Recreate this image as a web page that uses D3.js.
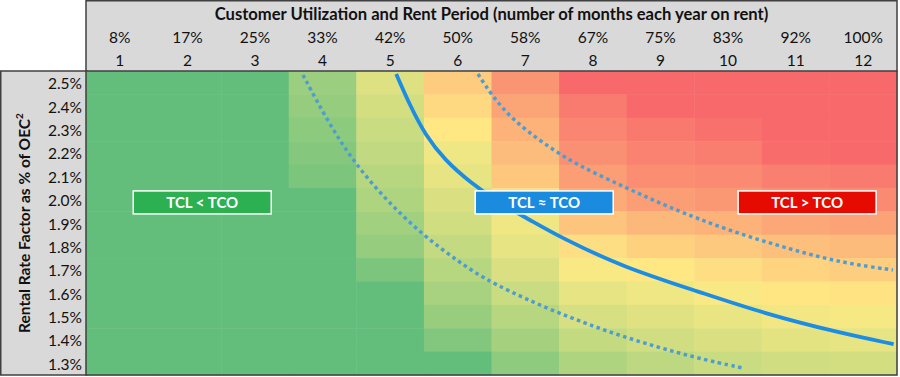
<!DOCTYPE html>
<html>
<head>
<meta charset="utf-8">
<script src="https://cdn.jsdelivr.net/npm/d3@7"></script>
<style>
  body { margin: 0; background: #fff; }
  svg { display: block; font-family: Lato, "Open Sans", sans-serif; }
</style>
</head>
<body>
<div id="chart"></div>
<script>
// chart values
const months = [1, 2, 3, 4, 5, 6, 7, 8, 9, 10, 11, 12];
const utilization = ["8%", "17%", "25%", "33%", "42%", "50%", "58%", "67%", "75%", "83%", "92%", "100%"];
const rates = [2.5, 2.4, 2.3, 2.2, 2.1, 2.0, 1.9, 1.8, 1.7, 1.6, 1.5, 1.4, 1.3];

// colour score per cell, one array per month (rows from 2.5% down to 1.3%), 50 = yellow
const score = [
  [0, 0, 0, 0, 0, 0, 0, 0, 0, 0, 0, 0, 0],
  [0, 0, 0, 0, 0, 0, 0, 0, 0, 0, 0, 0, 0],
  [0, 0, 0, 0, 0, 0, 0, 0, 0, 0, 0, 0, 0],
  [18, 16, 13, 11, 8, 0, 0, 0, 0, 0, 0, 0, 0],
  [39, 36, 33, 30, 27, 24, 20, 16, 8, 0, 0, 0, 0],
  [62, 57, 51, 45, 42, 38, 35, 31, 27, 22, 17, 10, 0],
  [83, 77, 72, 68, 64, 55, 45, 42, 38, 33, 27, 21, 14],
  [100, 93, 89, 85, 80, 75, 65, 55, 48, 42, 37, 31, 24],
  [100, 100, 94, 90, 86, 80, 70, 60, 51, 45, 40, 35, 29],
  [100, 100, 97, 92, 87, 82, 72, 63, 55, 48, 43, 38, 33],
  [100, 100, 100, 99, 91, 86, 76, 67, 59, 52, 46, 41, 35],
  [100, 100, 100, 100, 93, 87, 78, 69, 61, 53, 47, 42, 36]
];

// break-even curves as [months, rate %]
const breakEven = [[5.09, 2.537], [5.29, 2.405], [5.52, 2.276], [5.81, 2.169], [6.18, 2.075], [6.62, 1.985],
  [7.07, 1.913], [7.51, 1.84], [8.44, 1.712], [9.58, 1.605], [10.51, 1.515], [11.65, 1.43], [12.45, 1.382]];
const lowerBound = [[3.71, 2.533], [4.09, 2.328], [4.46, 2.161], [4.94, 1.998], [5.48, 1.849], [6.02, 1.733],
  [6.49, 1.643], [7.47, 1.515], [8.44, 1.412], [9.53, 1.322], [10.22, 1.28]];
const upperBound = [[6.3, 2.537], [6.52, 2.439], [6.82, 2.34], [7.26, 2.242], [7.76, 2.148], [8.5, 2.05],
  [9.1, 1.97], [9.98, 1.87], [10.96, 1.784], [11.7, 1.729], [12.44, 1.699]];

const zones = [
  {text: "TCL < TCO", month: 2.22, rate: 1.988, fill: "#2DB052"},
  {text: "TCL \u2248 TCO", month: 7.28, rate: 1.988, fill: "#1B8BE0"},
  {text: "TCL > TCO", month: 11.17, rate: 1.988, fill: "#E60B00"}
];

const width = 900, height = 377;
const margin = {top: 71, left: 86, right: 3, bottom: 2};
const x0 = margin.left, x1 = width - margin.right;
const y0 = margin.top, y1 = height - margin.bottom;
const textColor = "#111";

const svg = d3.select("#chart").append("svg")
  .attr("width", width)
  .attr("height", height);

const xBand = d3.scaleBand().domain(months).range([x0, x1]);
const yBand = d3.scaleBand().domain(rates).range([y0, y1]);
const step = xBand.bandwidth(), rowStep = yBand.bandwidth();
const xScale = d3.scaleLinear().domain([0.5, 12.5]).range([x0, x1]);
const yScale = d3.scaleLinear().domain([rates[0] + 0.05, rates[rates.length - 1] - 0.05]).range([y0, y1]);

const color = d3.scaleLinear()
  .domain([0, 50, 100])
  .range(["#63BE7B", "#FFEB84", "#F8696B"])
  .clamp(true);

// gray header and side panels
svg.append("rect").attr("x", x0).attr("y", 0.75).attr("width", x1 - x0).attr("height", y0)
  .attr("fill", "#D9D9D9").attr("stroke", "#404040").attr("stroke-width", 1.5);
svg.append("rect").attr("x", 0.75).attr("y", y0).attr("width", x0).attr("height", y1 - y0)
  .attr("fill", "#D9D9D9").attr("stroke", "#404040").attr("stroke-width", 1.5);

// heatmap cells
const cells = [];
months.forEach((m, i) => rates.forEach((r, j) => cells.push({m, r, v: score[i][j]})));
svg.append("g").selectAll("rect")
  .data(cells)
  .join("rect")
  .attr("x", d => xBand(d.m))
  .attr("y", d => yBand(d.r))
  .attr("width", step + 0.5)
  .attr("height", rowStep + 0.5)
  .attr("fill", d => color(d.v));

// header text
svg.append("text")
  .attr("x", (x0 + x1) / 2).attr("y", 19.5)
  .attr("text-anchor", "middle")
  .attr("font-weight", "bold").attr("font-size", 16.6).attr("fill", textColor)
  .text("Customer Utilization and Rent Period (number of months each year on rent)");

const xAxisTop = d3.axisTop(xBand).tickSize(0).tickFormat((d, i) => utilization[i]);
svg.append("g").attr("transform", `translate(0,${46})`).call(xAxisTop)
  .call(g => g.select(".domain").remove())
  .selectAll("text").attr("font-size", 15.5).attr("fill", textColor).attr("font-family", "Lato, sans-serif");

const xAxisMonths = d3.axisTop(xBand).tickSize(0);
svg.append("g").attr("transform", `translate(0,${68.5})`).call(xAxisMonths)
  .call(g => g.select(".domain").remove())
  .selectAll("text").attr("font-size", 15.5).attr("fill", textColor).attr("font-family", "Lato, sans-serif");

const yAxis = d3.axisLeft(yBand).tickSize(0).tickPadding(4).tickFormat(d => d.toFixed(1) + "%");
svg.append("g").attr("transform", `translate(${x0},0)`).call(yAxis)
  .call(g => g.select(".domain").remove())
  .selectAll("text").attr("font-size", 15.5).attr("dy", "0.42em").attr("fill", textColor).attr("font-family", "Lato, sans-serif");

const yTitle = svg.append("text")
  .attr("transform", `translate(30,${(y0 + y1) / 2}) rotate(-90)`)
  .attr("text-anchor", "middle")
  .attr("font-weight", "bold").attr("font-size", 15.5).attr("fill", textColor);
yTitle.append("tspan").text("Rental Rate Factor as % of OEC");
yTitle.append("tspan").attr("font-size", 10).attr("dy", -7).text("2");

// curves
svg.append("clipPath").attr("id", "plot-clip")
  .append("rect").attr("x", x0).attr("y", y0).attr("width", x1 - x0).attr("height", y1 - y0);

const line = d3.line()
  .x(d => xScale(d[0]))
  .y(d => yScale(d[1]))
  .curve(d3.curveBasis);

const curves = svg.append("g").attr("clip-path", "url(#plot-clip)");
[lowerBound, upperBound].forEach(pts => {
  curves.append("path")
    .attr("d", line(pts))
    .attr("fill", "none")
    .attr("stroke", "#4F9DD0")
    .attr("stroke-width", 3.5)
    .attr("stroke-dasharray", "3.5,3.5");
});
curves.append("path")
  .attr("d", line(breakEven))
  .attr("fill", "none")
  .attr("stroke", "#1C8DE3")
  .attr("stroke-width", 3.8);

// zone labels
const boxW = 138, boxH = 23;
const zone = svg.append("g").selectAll("g")
  .data(zones)
  .join("g")
  .attr("transform", d => `translate(${xScale(d.month)},${yScale(d.rate)})`);
zone.append("rect")
  .attr("x", -boxW / 2).attr("y", -boxH / 2)
  .attr("width", boxW).attr("height", boxH)
  .attr("fill", d => d.fill)
  .attr("stroke", "#fff").attr("stroke-width", 1.5);
zone.append("text")
  .attr("text-anchor", "middle").attr("dy", "0.37em")
  .attr("fill", "#fff").attr("font-weight", "bold").attr("font-size", 15)
  .text(d => d.text);

// frame around the grid
svg.append("rect").attr("x", x0).attr("y", y0).attr("width", x1 - x0).attr("height", y1 - y0)
  .attr("fill", "none").attr("stroke", "#404040").attr("stroke-width", 1.5);
</script>
</body>
</html>
